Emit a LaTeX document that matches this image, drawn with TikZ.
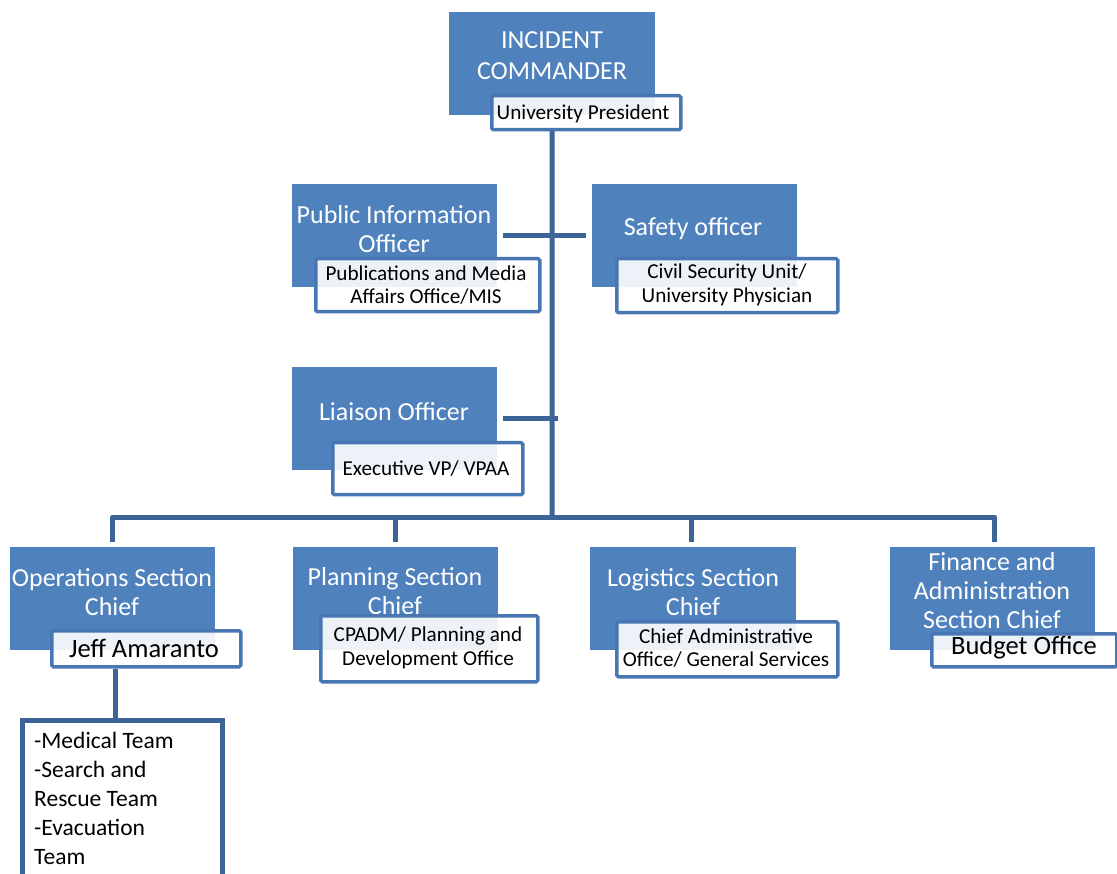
\documentclass[tikz,border=0pt]{standalone}
\usepackage{fontspec}
\setmainfont{Carlito}
\definecolor{boxblue}{RGB}{79,129,189}
\definecolor{linkblue}{RGB}{60,100,150}
\definecolor{subedge}{RGB}{72,118,178}
\tikzset{
  bluebox/.style={fill=boxblue, draw=none, inner sep=0pt, anchor=north west},
  titletext/.style={text=white, font=\fontsize{26}{29}\selectfont, align=center, inner sep=0pt},
  subbox/.style={draw=subedge, line width=3.5pt, fill=white, fill opacity=0.9, inner sep=0pt, anchor=north west, rounded corners=1.5pt},
  subtext/.style={font=\fontsize{21.2}{23.5}\selectfont, align=center, inner sep=0pt, text=black},
  bigsub/.style={font=\fontsize{26.5}{29}\selectfont, align=center, inner sep=0pt, text=black},
  teambox/.style={draw=linkblue, line width=5pt, fill=white, inner sep=0pt, anchor=north west},
  conn/.style={draw=linkblue, line width=5pt, line join=round},
}
\begin{document}
\begin{tikzpicture}[x=1pt,y=-1pt]
\useasboundingbox (0,0) rectangle (1117,874);
% blue boxes
\node[bluebox, minimum width=206, minimum height=103] (ic) at (449,12) {};
\node[bluebox, minimum width=205, minimum height=103] (pio) at (292,184) {};
\node[bluebox, minimum width=205, minimum height=103] (so) at (592,184) {};
\node[bluebox, minimum width=205, minimum height=103] (lo) at (292,367) {};
\node[bluebox, minimum width=205, minimum height=103] (ops) at (10,547) {};
\node[bluebox, minimum width=205, minimum height=103] (pl) at (293,547) {};
\node[bluebox, minimum width=206, minimum height=103] (lg) at (590,547) {};
\node[bluebox, minimum width=205, minimum height=103] (fn) at (890,547) {};
% blue texts
\node[titletext, font=\fontsize{26}{31}\selectfont] (ict) at (552,56) {INCIDENT\\COMMANDER};
\node[titletext] (piot) at (394,229) {Public Information\\Officer};
\node[titletext] (sot) at (693,229) {Safety officer};
\node[titletext] (lot) at (394,412) {Liaison Officer};
\node[titletext] (opst) at (112,592) {Operations Section\\Chief};
\node[titletext] (plt) at (395,591) {Planning Section\\Chief};
\node[titletext] (lgt) at (693,592) {Logistics Section\\Chief};
\node[titletext] (fnt) at (992,591) {Finance and\\Administration\\Section Chief};
% connectors
\coordinate (hub) at (552,517);
\draw[conn] (ic.center |- 0,128) -- (hub);
\draw[conn] ([xshift=6pt]pio.east) -- ([xshift=6pt]pio.east -| hub);
\draw[conn] ([xshift=-6pt]so.west) -- ([xshift=-6pt]so.west -| hub);
\draw[conn] ([xshift=6pt]lo.east) -- ([xshift=6pt]lo.east -| hub);
\draw[conn] ([yshift=5pt]ops.north) -- (ops.north |- hub) -- ([xshift=2pt]fn.north |- hub) -- ([xshift=2pt,yshift=5pt]fn.north);
\draw[conn] (pl.north |- hub) -- ([yshift=5pt]pl.north);
\draw[conn] ([xshift=-2pt]lg.north |- hub) -- ([xshift=-2pt,yshift=5pt]lg.north);
% sub boxes
\node[subbox, minimum width=189, minimum height=34] (up) at (490,94) {};
\node[subbox, minimum width=224, minimum height=53] (pios) at (314,257) {};
\node[subbox, minimum width=221, minimum height=54] (sos) at (615,257) {};
\node[subbox, minimum width=190, minimum height=52] (los) at (331,441) {};
\node[subbox, minimum width=189, minimum height=36] (opss) at (50,629) {};
\node[subbox, minimum width=217, minimum height=66] (pls) at (319,614) {};
\node[subbox, minimum width=221, minimum height=55] (lgs) at (615,620) {};
\node[subbox, minimum width=185, minimum height=33] (fns) at (930,632) {};
% team box
\node[teambox, minimum width=200, minimum height=220] (team) at (19.5,717.5) {};
\draw[conn] ([xshift=3pt]ops.center |- opss.south) -- ([xshift=3pt]ops.center |- team.north);
% sub texts
\node[subtext] (upt) at (583,114) {University President};
\node[subtext] (piost) at (426,285) {Publications and Media\\Affairs Office/MIS};
\node[subtext] (sost) at (727,285) {Civil Security Unit/\\University Physician};
\node[subtext] (lost) at (426,469) {Executive VP/ VPAA};
\node[bigsub] (opsst) at (144,648) {Jeff Amaranto};
\node[subtext] (plst) at (428,648) {CPADM/ Planning and\\Development Office};
\node[subtext] (lgst) at (726,648) {Chief Administrative\\Office/ General Services};
\node[bigsub] (fnst) at (1024,648) {Budget Office};
\node[font=\fontsize{23.5}{29}\selectfont, align=left, inner sep=0pt, anchor=north west] (teamt) at (34,732) {-Medical Team\\-Search and\\Rescue Team\\-Evacuation\\Team};
\end{tikzpicture}
\end{document}
